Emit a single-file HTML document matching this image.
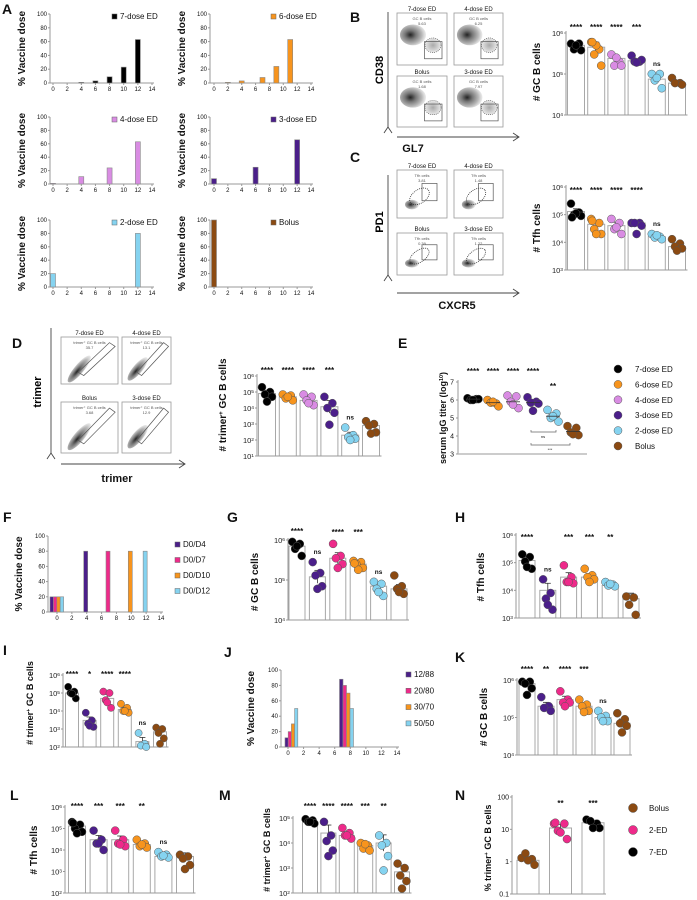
<!DOCTYPE html>
<html><head><meta charset="utf-8">
<style>
html,body{margin:0;padding:0;background:#fff;}
svg{display:block;font-family:"Liberation Sans",Arial,sans-serif;}
</style></head>
<body>
<svg id="fig" width="697" height="900" viewBox="0 0 697 900" xmlns="http://www.w3.org/2000/svg">
<defs>
<radialGradient id="blob" cx="0.4" cy="0.5" r="0.6">
<stop offset="0" stop-color="#222"/><stop offset="0.35" stop-color="#777"/><stop offset="0.75" stop-color="#bbb"/><stop offset="1" stop-color="#ddd" stop-opacity="0.6"/>
</radialGradient>
<radialGradient id="blob2" cx="0.5" cy="0.5" r="0.6">
<stop offset="0" stop-color="#aaa"/><stop offset="0.7" stop-color="#ddd"/><stop offset="1" stop-color="#eee" stop-opacity="0.5"/>
</radialGradient>
</defs>
</svg>
<script>
// ---------- DATA ----------
const a7Days=[4,6,8,10,12], a7Vals=[1,3,9,23,63];
const a6Days=[2,4,7,9,11], a6Vals=[1,3,8,24,63];
const a4Days=[0,4,8,12], a4Vals=[1,11,24,63];
const a3Days=[0,6,12], a3Vals=[8,25,66];
const a2Days=[0,12], a2Vals=[20,80];
const aBDays=[0], aBVals=[100];
const aTicksX=[0,2,4,6,8,10,12,14];
const aTicksY=[0,20,40,60,80,100];

const groupColors6=['#000000','#f7941d','#d98ce3','#4b1f8a','#85d3f0','#8b4a12'];
const groupColorsG=['#000000','#4b1f8a','#ee2a8a','#f7941d','#85d3f0','#8b4a12'];

const bMeans=[5e5,4.5e5,2.4e5,2.1e5,7.5e4,6e4];
const bPoints=[[5.5e5,5.5e5,4e5,3.8e5,5e5],[6e5,4e5,3e5,1.6e5,5e5,6e5],[3e5,2e5,1.6e5,1.6e5,2.5e5],[2.8e5,2e5,2e5,2.2e5,1.9e5],[1e5,1e5,7e4,4.5e4,8e4],[8e4,6e4,6e4,5.5e4]];
const bSigs=['****','****','****','***','ns',''];

const cMeans=[1.3e5,4.5e4,4e4,5e4,1.6e4,7e3];
const cPoints=[[2.5e5,1.2e5,1e5,9e4,1.1e5,8e4],[7e4,5e4,3e4,2e4,2e4,6e4],[7e4,5e4,3e4,2e4,3.5e4],[5e4,5e4,5e4,4e4,2e4],[2e4,1.6e4,1.5e4,1.3e4,1.8e4],[1.3e4,9e3,7e3,6e3,5e3]];
const cSigs=['****','****','****','****','ns',''];

const dMeans=[8e4,5e4,3e4,1.2e4,2e2,8e2];
const dPoints=[[2e5,1e5,7e4,5e4,2.5e4],[7e4,6e4,4e4,3e4,5e4],[7e4,5e4,3e4,1.5e4,2e4],[5e4,2e4,1e4,5e3,9e2],[6e2,2e2,1.5e2,1.2e2,1e2],[1.5e3,1e3,8e2,3e2,2.5e2]];
const dSigs=['****','****','****','***','ns',''];

const eMeans=[6.05,5.85,5.9,5.85,5.1,4.25];
const ePoints=[[6.1,6.05,6.0,6.05,6.0],[6.0,5.8,5.85,5.65,5.9],[6.25,6.2,5.9,5.55,5.75],[6.15,5.9,5.85,5.8,5.4],[5.45,5.25,5.0,4.8,5.1],[4.55,4.45,4.2,4.05,4.1]];
const eSigs=['****','****','****','****','**',''];
const eTicks=[3,4,5,6,7];
const eLegend=['7-dose ED','6-dose ED','4-dose ED','3-dose ED','2-dose ED','Bolus'];

const fDays=[4,7,10,12], fFirst=[20,20,20,20], fSecond=[80,80,80,80];
const fLegend=['D0/D4','D0/D7','D0/D10','D0/D12'];
const fColors=['#4b1f8a','#ee2a8a','#f7941d','#85d3f0'];

const gMeans=[7e5,1.2e5,3.5e5,2.5e5,7e4,6e4];
const gPoints=[[9e5,8e5,6e5,4e5,7e5],[2.8e5,1.5e5,1.3e5,7e4,6e4],[8e5,4e5,3.5e5,2.5e5,2e5],[3e5,2.8e5,2.5e5,2e5,1.8e5,2.6e5],[9e4,8e4,6e4,4e4,5e4],[1.3e5,7e4,6e4,4.5e4,5e4]];
const gSigs=['****','ns','****','***','ns',''];

const hMeans=[1.2e5,1e4,3e4,3e4,1.5e4,5e3];
const hPoints=[[2e5,1.6e5,1.1e5,6e4,7e4],[2.5e4,8e3,5e3,2e3,3e3],[8e4,3e4,2e4,1.8e4,2e4],[6e4,3.5e4,3e4,2.5e4,2e4],[2e4,1.6e4,1.5e4,1.4e4,1.7e4],[6e3,5.5e3,3e3,1.3e3]];
const hSigs=['****','ns','***','***','**',''];

const iMeans=[1e5,3e3,5e4,1.2e4,2e2,7e2];
const iPoints=[[2.2e5,1.2e5,1e5,5e4,9e4],[8e3,3e3,2e3,1.3e3,1.5e3],[1.2e5,1e5,4e4,1.5e4,3e4],[2.5e4,1.5e4,1e4,8e3,1e4],[6e2,1.5e2,1.2e2,1e2],[1.2e3,1e3,6e2,3e2,1.5e2]];
const iSigs=['****','*','****','****','ns',''];

const jDays=[0,7], jRatios=['12/88','20/80','30/70','50/50'];
const jFirst=[12,20,30,50], jSecond=[88,80,70,50];

const kMeans=[8e5,2e5,3e5,2e5,1e5,7e4];
const kPoints=[[9e5,9e5,8e5,6e5,4e5],[3.5e5,2e5,1.8e5,1.5e5],[5e5,3e5,2.5e5,2.5e5,2e5],[3e5,2.2e5,2e5,1.5e5,1.4e5],[1.5e5,1.1e5,1e5,8e4,8e4],[1.3e5,9e4,7e4,6e4,4e4]];
const kSigs=['****','**','****','***','ns',''];

const lMeans=[1.3e5,3e4,3e4,1.8e4,5e3,5e3];
const lPoints=[[2e5,1.5e5,1e5,7e4,6e4,1.8e5],[8e4,3e4,2e4,1e4,2e4],[8e4,3e4,2e4,1.5e4,1.8e4],[3e4,2e4,1.5e4,1.3e4,1.8e4],[8e3,6e3,5e3,4.5e3,5.5e3],[6e3,5e3,4e3,2e3,1.3e3]];
const lSigs=['****','***','***','**','ns',''];

const mMeans=[7e4,2.5e4,2e4,8e3,1e4,7e2];
const mPoints=[[9e4,8e4,7e4,6e4,7e4],[7e4,2e4,1.2e4,5e3,3e3],[4e4,2.5e4,2e4,1.5e4,2e4],[1e4,8e3,6e3,5e3,9e3],[2e4,1e4,8e3,3e3,8e2],[1.5e3,1e3,5e2,3e2,1.5e2]];
const mSigs=['****','****','****','***','**',''];

const nMeans=[1.1,11,16];
const nPoints=[[1.3,1.2,1.8,0.8,1.1],[15,15,9,5,8,16],[20,15,18,11,11]];
const nSigs=['','**','***'];
const nLegend=['Bolus','2-ED','7-ED'];
const nColors=['#8b4a12','#ee2a8a','#000000'];

// ---------- HELPERS ----------
const NS='http://www.w3.org/2000/svg';
const svg=document.getElementById('fig');
function mk(tag,attrs,parent){const e=document.createElementNS(NS,tag);for(const k in attrs)e.setAttribute(k,attrs[k]);(parent||svg).appendChild(e);return e;}
function txt(x,y,s,size,parent,extra){const e=mk('text',Object.assign({x:x,y:y,'font-size':size,fill:'#111'},extra||{}),parent);e.textContent=s;return e;}
const JIT=[-5,3,-2,5,0,-4,2];

function letter(x,y,s){const t=txt(x,y,s,14,svg,{'font-weight':'bold'});

}

function ylab(g,x,y,parts,size){const t=mk('text',{x:0,y:0,'font-size':size||10,'font-weight':'bold','text-anchor':'middle',fill:'#111',transform:'translate('+x+','+y+') rotate(-90)'},g);
parts.forEach(p=>{const s=mk('tspan',p.sup?{'baseline-shift':'super','font-size':(size||10)*0.6}:{},t);s.textContent=p.t;});

return t;}

function supLabel(g,x,y,base,exp,size){const t=mk('text',{x:x,y:y,'font-size':size,'text-anchor':'end',fill:'#222'},g);
const a=mk('tspan',{},t);a.textContent=base;const b=mk('tspan',{'baseline-shift':'super','font-size':size*0.65},t);b.textContent=exp;

}

// log-scale scatter/bar panel
function scatterPanel(p){
 const g=mk('g',{});
 
 
 const Y=v=>p.top+(p.lmax-Math.log10(v))/(p.lmax-p.lmin)*(p.bot-p.top);
 const X=i=>p.first+i*p.sp;
 const last=X(p.means.length-1)+p.bw/2+2;
 // bars
 p.means.forEach((m,i)=>{
  const r=mk('rect',{x:X(i)-p.bw/2,y:Y(m),width:p.bw,height:p.bot-Y(m),fill:'#fff',stroke:'#a8a8a8','stroke-width':1},g);
  
  
 });
 // axes
 const ax=mk('line',{x1:p.ax,y1:p.top-2,x2:p.ax,y2:p.bot,stroke:'#999','stroke-width':1},g);
 
 
 const bx=mk('line',{x1:p.ax,y1:p.bot,x2:last,y2:p.bot,stroke:'#999','stroke-width':1},g);
 
 
 for(let k=p.lmin;k<=p.lmax;k++){
  const yy=Y(Math.pow(10,k));
  mk('line',{x1:p.ax-2,y1:yy,x2:p.ax,y2:yy,stroke:'#999'},g);
  if(p.plain) { const t=txt(p.ax-3,yy+2.5,p.plain[k-p.lmin],7,g,{'text-anchor':'end'});
    
     }
  else supLabel(g,p.ax-3,yy+3,'10',String(k),7.5);
 }
 // points, error bars
 p.pts.forEach((arr,i)=>{
  const logs=arr.map(v=>Math.log10(v));const mean=logs.reduce((a,b)=>a+b,0)/logs.length;
  const sd=Math.sqrt(logs.reduce((a,b)=>a+(b-mean)*(b-mean),0)/logs.length);const se=sd/Math.sqrt(logs.length);
  const lm=Math.log10(p.means[i]);
  const y1=Y(Math.pow(10,lm+se*1.5)),y2=Y(Math.pow(10,lm-se*1.5));
  mk('line',{x1:X(i),y1:y1,x2:X(i),y2:y2,stroke:'#333','stroke-width':0.8},g);
  mk('line',{x1:X(i)-3,y1:y1,x2:X(i)+3,y2:y1,stroke:'#333','stroke-width':0.8},g);
  arr.forEach((v,j)=>{
   const c=mk('circle',{cx:X(i)+JIT[j%JIT.length]*(p.bw/17),cy:Y(v),r:p.r||4,fill:p.colors[i],stroke:'#555','stroke-width':0.5},g);
   
   
  });
  const s=p.sigs[i];
  if(s){const mx=Math.max(...arr);let yy=Math.min(p.sigY,Y(mx)-8);if(s==='ns')yy=Y(mx)-8;
   const t=txt(X(i),yy,s,s==='ns'?6.5:8,g,{'text-anchor':'middle','font-weight':'bold'});
   
   }
 });
 ylab(g,p.ylx,p.yly,p.ylabel,p.ylsize||10);
 return g;
}

// linear bar chart (% vaccine dose)
function doseChart(p){
 const g=mk('g',{});
 
 
 const X=d=>p.x0+(p.x14-p.x0)*d/14;
 const Y=v=>p.y0-(p.y0-p.y100)*v/100;
 const ya=mk('line',{x1:p.ax,y1:p.y100,x2:p.ax,y2:p.y0,stroke:'#999'},g);
 
 
 const xa=mk('line',{x1:p.ax,y1:p.y0,x2:X(14)+2,y2:p.y0,stroke:'#999'},g);
 
 
 aTicksY.forEach(v=>{mk('line',{x1:p.ax-2,y1:Y(v),x2:p.ax,y2:Y(v),stroke:'#999'},g);
  const t=txt(p.ax-3,Y(v)+2,String(v),6,g,{'text-anchor':'end'});
  
  });
 aTicksX.forEach(v=>{mk('line',{x1:X(v),y1:p.y0,x2:X(v),y2:p.y0+2,stroke:'#999'},g);
  const t=txt(X(v),p.y0+8,String(v),6,g,{'text-anchor':'middle'});
  
  });
 ylab(g,p.ylx,(p.y0+p.y100)/2,[{t:'% Vaccine dose'}],10);
 return {g:g,X:X,Y:Y};
}
function bar(g,x,w,y,y0,color,name){
 const r=mk('rect',{x:x,y:y,width:w,height:Math.max(0.5,y0-y),fill:color,stroke:'#888','stroke-width':0.6},g);
 
 
}
function legendSq(g,x,y,color,label,size){
 mk('rect',{x:x,y:y-5,width:5,height:5,fill:color,stroke:'#666','stroke-width':0.5},g);
 const t=txt(x+8,y,label,size||8,g);
 
 
}

// flow cytometry plots
function flow(x,y,w,h,title,gname,val,type){
 const g=mk('g',{});
 
 
 mk('rect',{x:x,y:y,width:w,height:h,fill:'#fff',stroke:'#999','stroke-width':0.8},g);
 const t=txt(x+w/2,y-2,title,6,g,{'text-anchor':'middle'});
 
 
 const gt=txt(x+w/2,y+7,gname,4,g,{'text-anchor':'middle',fill:'#555'});
 
 
 const gv=txt(x+w/2,y+12,val,4,g,{'text-anchor':'middle',fill:'#555'});
 
 
 if(type==='gc'){
  mk('ellipse',{cx:x+w*0.32,cy:y+h*0.42,rx:w*0.26,ry:h*0.2,fill:'url(#blob)'},g);
  mk('ellipse',{cx:x+w*0.72,cy:y+h*0.62,rx:w*0.16,ry:h*0.14,fill:'url(#blob2)',stroke:'#444','stroke-width':0.6,'stroke-dasharray':'1,1'},g);
  mk('rect',{x:x+w*0.55,y:y+h*0.55,width:w*0.35,height:h*0.33,fill:'none',stroke:'#555','stroke-width':0.7},g);
 } else if(type==='tfh'){
  mk('ellipse',{cx:x+w*0.3,cy:y+h*0.72,rx:w*0.14,ry:h*0.1,fill:'url(#blob)'},g);
  mk('ellipse',{cx:x+w*0.45,cy:y+h*0.55,rx:w*0.22,ry:h*0.14,fill:'none',stroke:'#333','stroke-width':0.8,'stroke-dasharray':'1,1',transform:'rotate(-35 '+(x+w*0.45)+' '+(y+h*0.55)+')'},g);
  mk('rect',{x:x+w*0.5,y:y+h*0.28,width:w*0.3,height:h*0.36,fill:'none',stroke:'#555','stroke-width':0.7},g);
 } else {
  mk('ellipse',{cx:x+w*0.32,cy:y+h*0.68,rx:w*0.3,ry:h*0.1,fill:'url(#blob)',transform:'rotate(-50 '+(x+w*0.32)+' '+(y+h*0.68)+')'},g);
  mk('polygon',{points:[(x+w*0.3)+','+(y+h*0.75),(x+w*0.4)+','+(y+h*0.82),(x+w*0.95)+','+(y+h*0.2),(x+w*0.85)+','+(y+h*0.12)].join(' '),fill:'none',stroke:'#555','stroke-width':0.7},g);
 }
}
function arrow(x1,y1,x2,y2,name){
 const l=mk('line',{x1:x1,y1:y1,x2:x2,y2:y2,stroke:'#444','stroke-width':0.9});
 
 
 if(x1===x2){mk('polyline',{points:(x1-4)+','+(y1+6)+' '+x1+','+y1+' '+(x1+4)+','+(y1+6),fill:'none',stroke:'#444','stroke-width':0.9});}
 else {mk('polyline',{points:(x2-6)+','+(y2-4)+' '+x2+','+y2+' '+(x2-6)+','+(y2+4),fill:'none',stroke:'#444','stroke-width':0.9});}
}

// ---------- PANEL A ----------
letter(2,14,'A');
const aCfg=[
 {days:a7Days,vals:a7Vals,c:'#000000',lab:'7-dose ED',ax:50,x0:53,x14:152,y100:14,y0:83,ylx:25,lx:112},
 {days:a6Days,vals:a6Vals,c:'#f7941d',lab:'6-dose ED',ax:210,x0:214,x14:311,y100:14,y0:83,ylx:185,lx:271},
 {days:a4Days,vals:a4Vals,c:'#d98ce3',lab:'4-dose ED',ax:50,x0:53,x14:152,y100:117,y0:184,ylx:25,lx:112},
 {days:a3Days,vals:a3Vals,c:'#4b1f8a',lab:'3-dose ED',ax:210,x0:214,x14:311,y100:117,y0:184,ylx:185,lx:271},
 {days:a2Days,vals:a2Vals,c:'#85d3f0',lab:'2-dose ED',ax:50,x0:53,x14:152,y100:220,y0:287,ylx:25,lx:112},
 {days:aBDays,vals:aBVals,c:'#8b4a12',lab:'Bolus',ax:210,x0:214,x14:311,y100:220,y0:287,ylx:185,lx:271}
];
aCfg.forEach((c,k)=>{
 const ch=doseChart({name:'dose-schedule-'+c.lab.toLowerCase().replace(/\s+/g,'-'),ax:c.ax,x0:c.x0,x14:c.x14,y100:c.y100,y0:c.y0,ylx:c.ylx});
 c.days.forEach((d,i)=>bar(ch.g,ch.X(d)-2.5,5,ch.Y(c.vals[i]),c.y0,c.c,'bar-day-'+d));
 legendSq(ch.g,c.lx,c.y100+5,c.c,c.lab,8);
});

// ---------- PANEL B ----------
letter(350,22,'B');
flow(397,13,50,52,'7-dose ED','GC B cells','5.63','gc');
flow(454,13,49,52,'4-dose ED','GC B cells','6.25','gc');
flow(397,76,50,51,'Bolus','GC B cells','1.68','gc');
flow(454,76,49,51,'3-dose ED','GC B cells','7.97','gc');
arrow(388,127,388,12,'y-arrow-cd38');
arrow(397,137,519,137,'x-arrow-gl7');
(function(){const t=mk('text',{x:0,y:0,'font-size':11,'font-weight':'bold','text-anchor':'middle',transform:'translate(383,70) rotate(-90)'});t.textContent='CD38';


const u=txt(413,152,'GL7',11,svg,{'font-weight':'bold','text-anchor':'middle'});

})();
scatterPanel({name:'gc-b-cells-chart-b',ax:566,top:33,bot:115,lmax:6,lmin:4,first:576,sp:20.2,bw:17,means:bMeans,pts:bPoints,colors:groupColors6,sigs:bSigs,sigY:30,ylabel:[{t:'# GC B cells'}],ylx:540,yly:72});

// ---------- PANEL C ----------
letter(350,162,'C');
flow(397,170,50,48,'7-dose ED','Tfh cells','3.81','tfh');
flow(454,170,49,48,'4-dose ED','Tfh cells','1.48','tfh');
flow(397,233,50,42,'Bolus','Tfh cells','0.39','tfh');
flow(454,233,49,42,'3-dose ED','Tfh cells','1.22','tfh');
arrow(388,275,388,175,'y-arrow-pd1');
arrow(397,293,519,293,'x-arrow-cxcr5');
(function(){const t=mk('text',{x:0,y:0,'font-size':11,'font-weight':'bold','text-anchor':'middle',transform:'translate(383,222) rotate(-90)'});t.textContent='PD1';


const u=txt(457,309,'CXCR5',11,svg,{'font-weight':'bold','text-anchor':'middle'});

})();
scatterPanel({name:'tfh-cells-chart-c',ax:566,top:187,bot:270,lmax:6,lmin:3,first:576,sp:20.2,bw:17,means:cMeans,pts:cPoints,colors:groupColors6,sigs:cSigs,sigY:193,ylabel:[{t:'# Tfh cells'}],ylx:540,yly:228});

// ---------- PANEL D ----------
letter(12,348,'D');
flow(61,337,57,47,'7-dose ED','trimer⁺ GC B cells','35.7','tri');
flow(122,337,49,47,'4-dose ED','trimer⁺ GC B cells','13.1','tri');
flow(61,402,57,51,'Bolus','trimer⁺ GC B cells','3.68','tri');
flow(122,402,49,51,'3-dose ED','trimer⁺ GC B cells','12.9','tri');
arrow(51,453,51,328,'y-arrow-trimer');
arrow(61,464,185,464,'x-arrow-trimer');
(function(){const t=mk('text',{x:0,y:0,'font-size':11,'font-weight':'bold','text-anchor':'middle',transform:'translate(41,392) rotate(-90)'});t.textContent='trimer';


const u=txt(117,482,'trimer',11,svg,{'font-weight':'bold','text-anchor':'middle'});

})();
scatterPanel({name:'trimer-gc-b-cells-chart-d',ax:257,top:376,bot:456,lmax:6,lmin:1,first:267,sp:20.8,bw:17,means:dMeans,pts:dPoints,colors:groupColors6,sigs:dSigs,sigY:373,ylabel:[{t:'# trimer'},{t:'+',sup:true},{t:' GC B cells'}],ylx:226,yly:405});

// ---------- PANEL E ----------
letter(398,348,'E');
(function(){
 const g=mk('g',{});
 
 
 const ax=458,top=382,bot=454;
 const Y=v=>bot-(v-3)/4*(bot-top);
 const X=i=>473+i*20;
 const ya=mk('line',{x1:ax,y1:top-2,x2:ax,y2:bot,stroke:'#999'},g);
 
 
 const xa=mk('line',{x1:ax,y1:bot,x2:587,y2:bot,stroke:'#bbb','stroke-width':1.5},g);
 
 
 eTicks.forEach(v=>{mk('line',{x1:ax-2,y1:Y(v),x2:ax,y2:Y(v),stroke:'#999'},g);
  const t=txt(ax-4,Y(v)+2.5,String(v),7,g,{'text-anchor':'end'});
  
  });
 ePoints.forEach((arr,i)=>{
  arr.forEach((v,j)=>{const c=mk('circle',{cx:X(i)+JIT[j]*1.1,cy:Y(v),r:4,fill:groupColors6[i],stroke:'#555','stroke-width':0.5},g);
   
   });
  mk('line',{x1:X(i)-7,y1:Y(eMeans[i]),x2:X(i)+7,y2:Y(eMeans[i]),stroke:'#333','stroke-width':0.8},g);
  if(eSigs[i]){const t=txt(X(i),eSigs[i]==='**'?389:374,eSigs[i],8,g,{'text-anchor':'middle','font-weight':'bold'});
   
   }
 });
 mk('polyline',{points:'531,430 531,432 556,432 556,430',fill:'none',stroke:'#666','stroke-width':0.7},g);
 txt(543,438,'ns',4,g,{'text-anchor':'middle'});
 mk('polyline',{points:'531,443 531,445 570,445 570,443',fill:'none',stroke:'#666','stroke-width':0.7},g);
 txt(550,451,'***',4,g,{'text-anchor':'middle'});
 ylab(g,446,418,[{t:'serum IgG titer (log'},{t:'10',sup:true},{t:')'}],9);
 eLegend.forEach((s,i)=>{const y=369+i*15.4;
  mk('circle',{cx:618,cy:y,r:4,fill:groupColors6[i],stroke:'#555','stroke-width':0.5},g);
  const t=txt(635,y+3,s,8,g);
  
  });
})();

// ---------- PANEL F ----------
letter(3,522,'F');
(function(){
 const ch=doseChart({name:'dose-interval-chart-f',ax:48,x0:57,x14:161,y100:536,y0:612,ylx:22});
 fFirst.forEach((v,i)=>bar(ch.g,ch.X(0)-7+i*3.4,3.4,ch.Y(v),612,fColors[i],'bar-day-0'));
 fDays.forEach((d,i)=>bar(ch.g,ch.X(d)-3,4,ch.Y(fSecond[i]),612,fColors[i],'bar-day-'+d));
 fLegend.forEach((s,i)=>legendSq(ch.g,175,547+i*15.5,fColors[i],s,8));
})();

// ---------- PANEL G / H ----------
letter(227,522,'G');
scatterPanel({name:'gc-b-cells-chart-g',ax:288,top:540,bot:620,lmax:6,lmin:4,first:297,sp:20.4,bw:16,means:gMeans,pts:gPoints,colors:groupColorsG,sigs:gSigs,sigY:535,ylabel:[{t:'# GC B cells'}],ylx:258,yly:582});
letter(455,522,'H');
scatterPanel({name:'tfh-cells-chart-h',ax:516,top:535,bot:618,lmax:6,lmin:3,first:527,sp:20.8,bw:16,means:hMeans,pts:hPoints,colors:groupColorsG,sigs:hSigs,sigY:540,ylabel:[{t:'# Tfh cells'}],ylx:484,yly:577});

// ---------- PANEL I / J / K ----------
letter(3,655,'I');
scatterPanel({name:'trimer-gc-b-cells-chart-i',ax:63,top:675,bot:747,lmax:6,lmin:2,first:72,sp:17.6,bw:13,r:3.6,means:iMeans,pts:iPoints,colors:groupColorsG,sigs:iSigs,sigY:677,ylabel:[{t:'# trimer'},{t:'+',sup:true},{t:' GC B cells'}],ylx:33,yly:703,ylsize:9});
letter(224,657,'J');
(function(){
 const ch=doseChart({name:'dose-ratio-chart-j',ax:281,x0:288,x14:397,y100:670,y0:747,ylx:254});
 jFirst.forEach((v,i)=>bar(ch.g,ch.X(jDays[0])-3+i*3.2,3.2,ch.Y(v),747,fColors[i],'bar-day-0'));
 jSecond.forEach((v,i)=>bar(ch.g,ch.X(jDays[1])-3+i*3.5,3.5,ch.Y(v),747,fColors[i],'bar-day-7'));
 jRatios.forEach((s,i)=>legendSq(ch.g,406,677+i*16.3,fColors[i],s,8));
})();
letter(455,662,'K');
scatterPanel({name:'gc-b-cells-chart-k',ax:517,top:680,bot:755,lmax:6,lmin:4,first:527,sp:19,bw:16,means:kMeans,pts:kPoints,colors:groupColorsG,sigs:kSigs,sigY:672,ylabel:[{t:'# GC B cells'}],ylx:487,yly:717});

// ---------- PANEL L / M / N ----------
letter(10,800,'L');
scatterPanel({name:'tfh-cells-chart-l',ax:65,top:807,bot:893,lmax:6,lmin:2,first:77,sp:21.6,bw:17,means:lMeans,pts:lPoints,colors:groupColorsG,sigs:lSigs,sigY:809,ylabel:[{t:'# Tfh cells'}],ylx:37,yly:850});
letter(219,800,'M');
scatterPanel({name:'trimer-gc-b-cells-chart-m',ax:293,top:818,bot:893,lmax:5,lmin:2,first:310,sp:18.4,bw:15,means:mMeans,pts:mPoints,colors:groupColorsG,sigs:mSigs,sigY:809,ylabel:[{t:'# trimer'},{t:'+',sup:true},{t:' GC B cells'}],ylx:270,yly:850,ylsize:9});
letter(455,800,'N');
scatterPanel({name:'percent-trimer-chart-n',ax:512,top:797,bot:894,lmax:2,lmin:-1,first:528,sp:32.5,bw:22,means:nMeans,pts:nPoints,colors:nColors,sigs:nSigs,sigY:806,plain:['0.1','1','10','100'],ylabel:[{t:'% trimer'},{t:'+',sup:true},{t:' GC B cells'}],ylx:491,yly:848,ylsize:9});
(function(){
 const g=mk('g',{});
 
 
 nLegend.forEach((s,i)=>{const y=808+i*22;
  mk('circle',{cx:633,cy:y,r:4.5,fill:nColors[i],stroke:'#555','stroke-width':0.5},g);
  const t=txt(649,y+3,s,8,g);
  
  });
})();
</script>
</body></html>
